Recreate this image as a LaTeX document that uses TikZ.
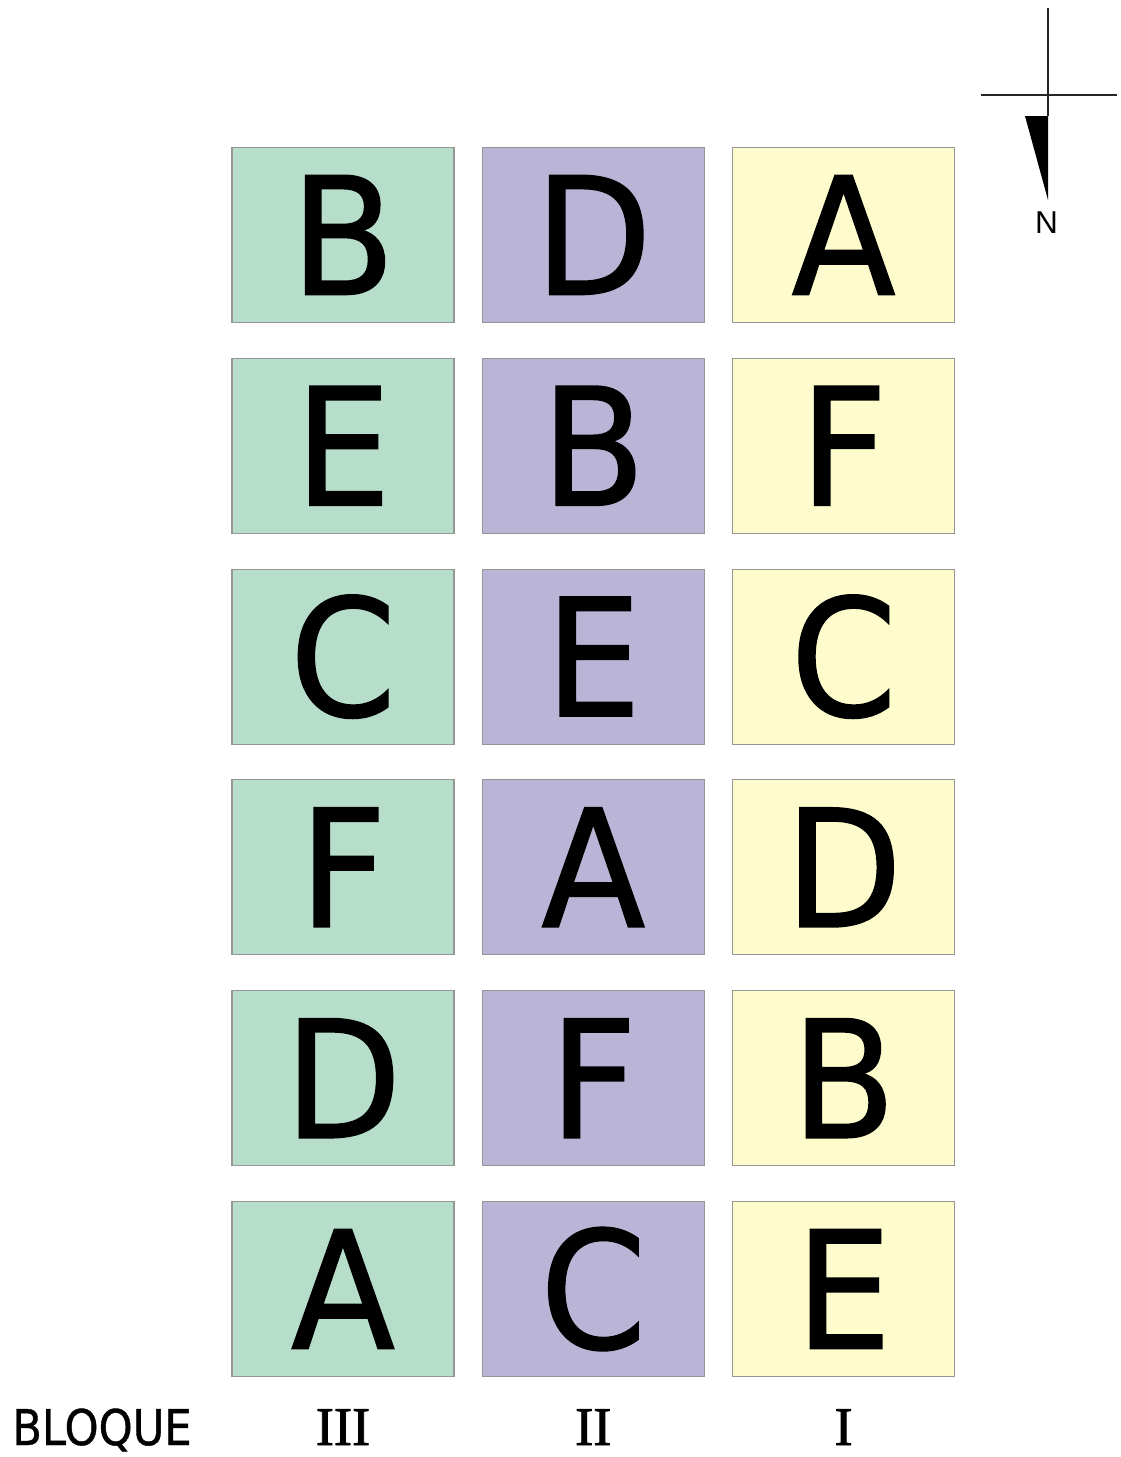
\documentclass[tikz,border=0pt]{standalone}
\usepackage{fontspec}
\usepackage{xcolor}
\usetikzlibrary{positioning}
\newfontfamily\letterfont[FakeStretch=0.93,FakeBold=1]{DejaVu Sans}
\newfontfamily\blockfont[FakeStretch=0.88,FakeBold=0.8]{DejaVu Sans}
\newfontfamily\northfont{Liberation Sans}
\newfontfamily\romanfont[FakeBold=1.5]{Liberation Serif}
\definecolor{PlotGreen}{RGB}{182,222,203}
\definecolor{PlotPurple}{RGB}{186,180,214}
\definecolor{PlotYellow}{RGB}{254,252,204}
\definecolor{PlotEdge}{RGB}{150,150,150}

\begin{document}
\begin{tikzpicture}[
node distance=6.95mm and 5.45mm,
plot/.style={rectangle,draw=PlotEdge,line width=0.6pt,minimum width=4.44cm,
minimum height=3.5cm,inner sep=0pt,text height=2.38cm,text depth=0pt,
font=\letterfont\fontsize{93}{93}\selectfont},
plotIII/.style={plot,fill=PlotGreen},
plotII/.style={plot,fill=PlotPurple},
plotI/.style={plot,fill=PlotYellow},
label/.style={anchor=base,inner sep=0pt,font=\romanfont\fontsize{31}{31}\selectfont},
rule/.style={line width=1.1pt,draw=black!85}
]
\useasboundingbox (0,0) rectangle (22.42,-29.14);
% bloque III
\node[plotIII] (c31) at (6.86,-4.70) {B};
\node[plotIII,below=of c31] (c32) {E};
\node[plotIII,below=of c32] (c33) {C};
\node[plotIII,below=of c33] (c34) {F};
\node[plotIII,below=of c34] (c35) {D};
\node[plotIII,below=of c35] (c36) {A};
% bloque II
\node[plotII,right=of c31] (c21) {D};
\node[plotII,below=of c21] (c22) {B};
\node[plotII,below=of c22] (c23) {E};
\node[plotII,below=of c23] (c24) {A};
\node[plotII,below=of c24] (c25) {F};
\node[plotII,below=of c25] (c26) {C};
% bloque I
\node[plotI,right=of c21] (c11) {A};
\node[plotI,below=of c11] (c12) {F};
\node[plotI,below=of c12] (c13) {C};
\node[plotI,below=of c13] (c14) {D};
\node[plotI,below=of c14] (c15) {B};
\node[plotI,below=of c15] (c16) {E};
% labels
\node[label,font=\blockfont\fontsize{28}{28}\selectfont] (bloque) at (2.04,-28.9) {BLOQUE};
\node[label] (bIII) at (c36.south |- bloque.base) {III};
\node[label] (bII) at (c26.south |- bloque.base) {II};
\node[label] (bI) at (c16.south |- bloque.base) {I};
% north arrow
\coordinate (ntop) at (20.96,-0.16);
\coordinate (nbase) at (20.96,-2.32);
\coordinate (ntip) at (20.96,-4.0);
\coordinate (wx) at (19.62,-1.9);
\coordinate (ex) at (22.34,-1.9);
\draw[rule] (ntop) -- (nbase);
\draw[rule] (wx) -- (ex);
\fill[black] (20.5,-2.32) -- (nbase) -- (ntip) -- cycle;
\node[font=\northfont\fontsize{18}{18}\selectfont,inner sep=0pt] (north) at (20.93,-4.45) {N};
\end{tikzpicture}
\end{document}
